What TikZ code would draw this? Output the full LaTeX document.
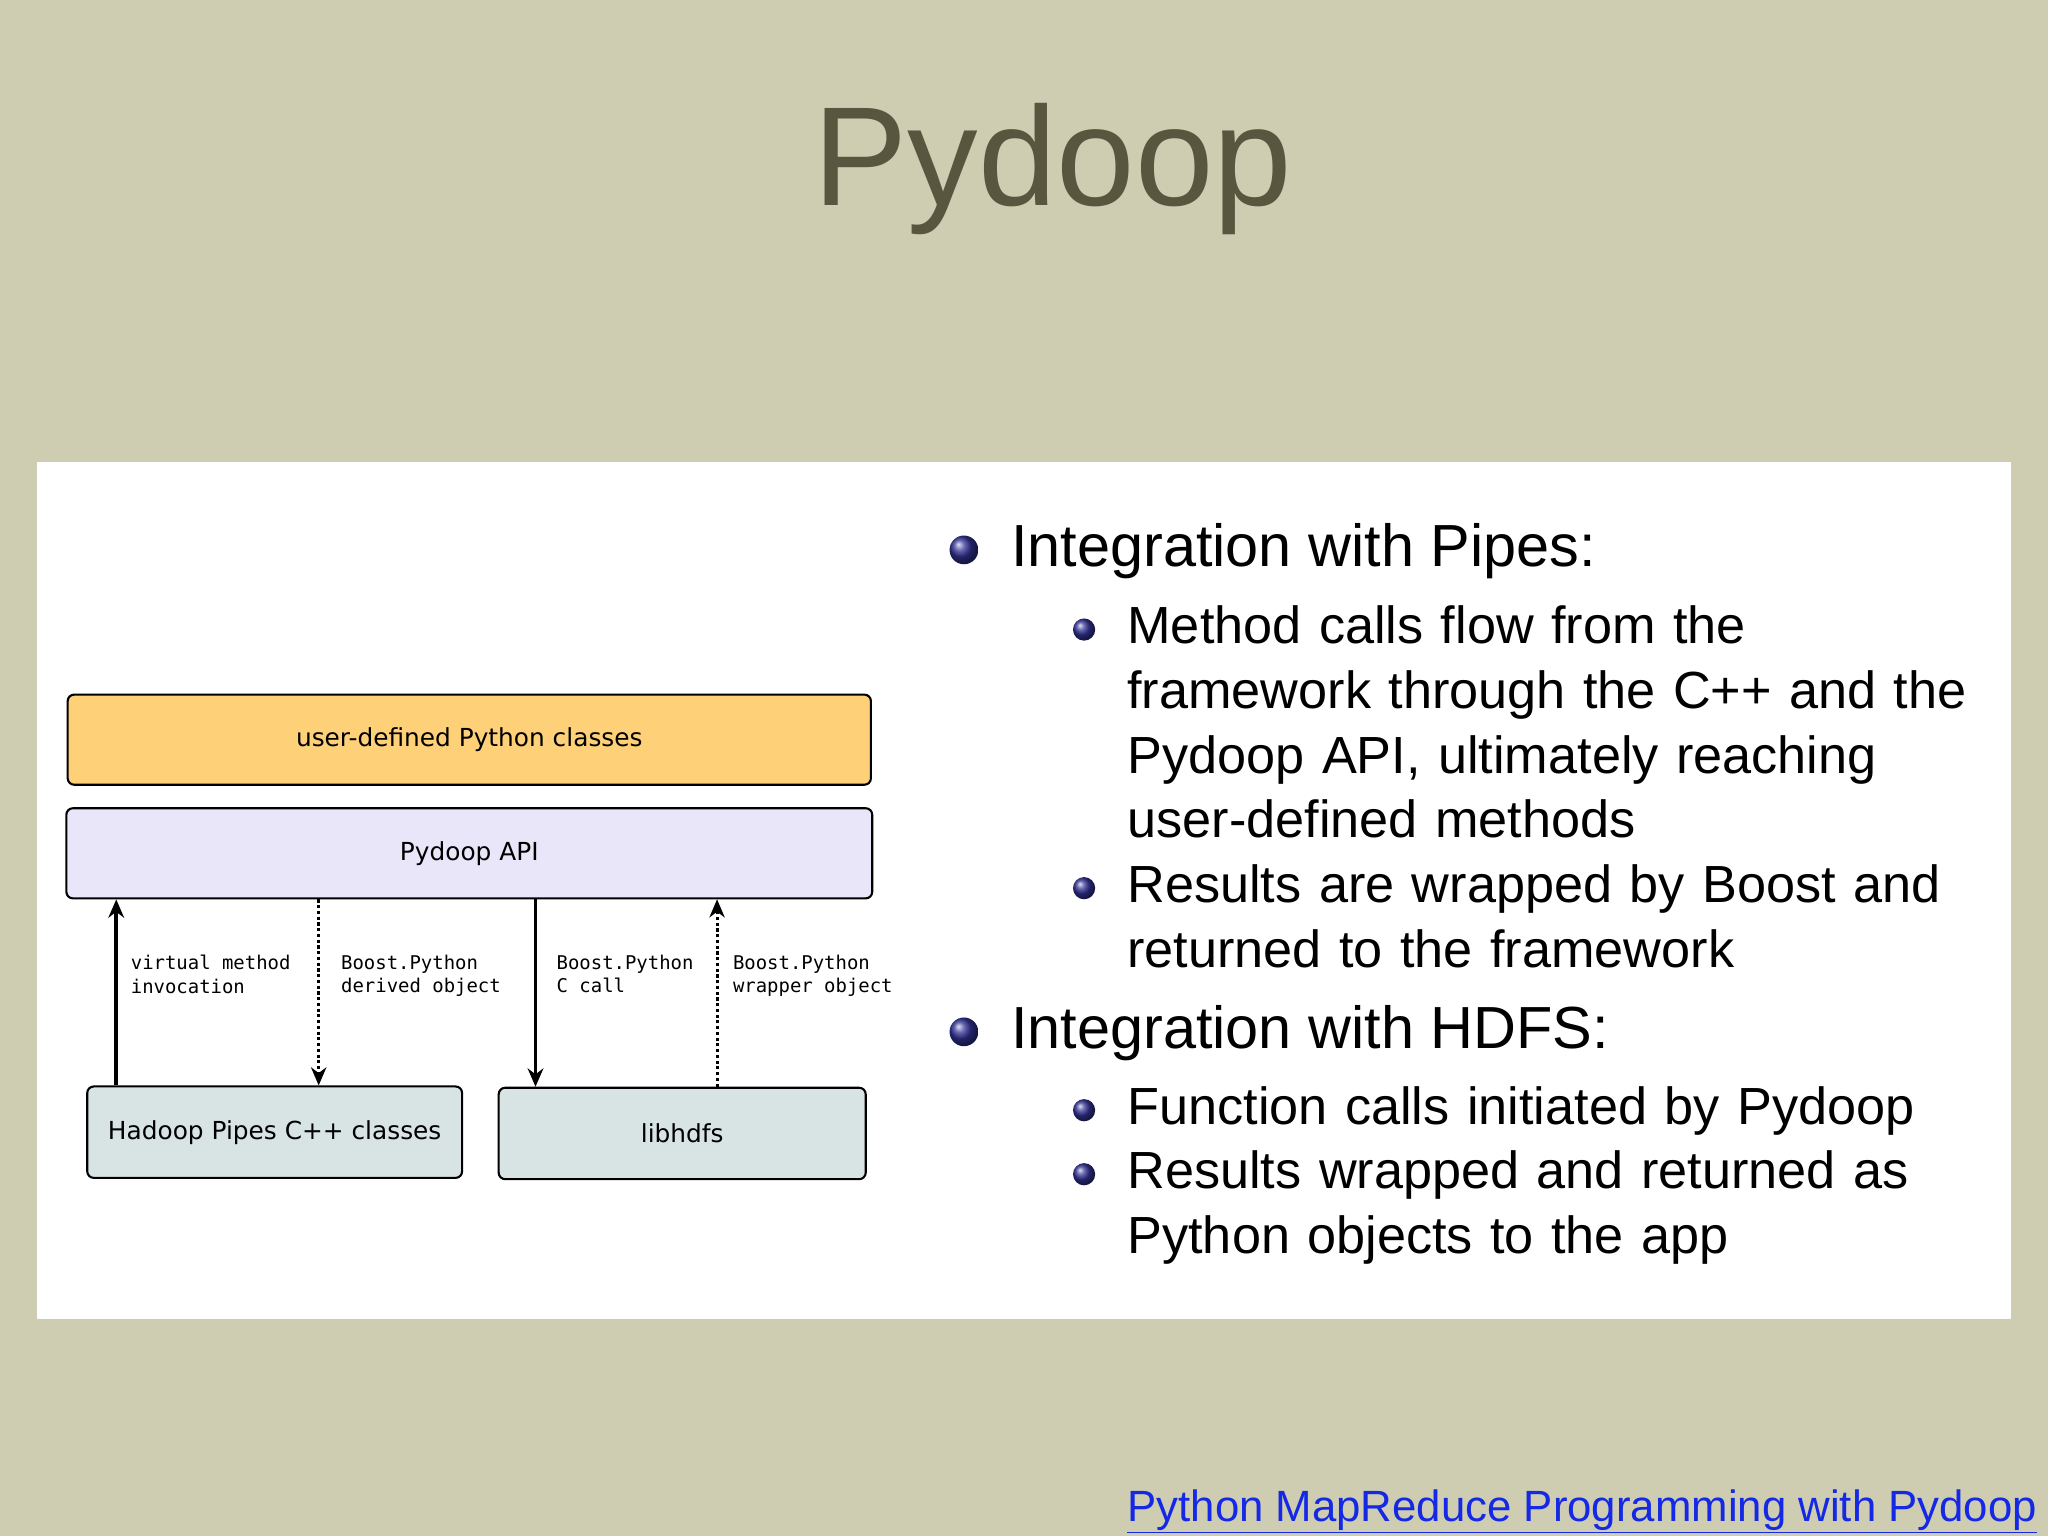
\documentclass[tikz,border=0pt]{standalone}
\usepackage{fontspec}
\setmainfont{Liberation Sans}
\newfontfamily\diagfont{DejaVu Sans}
\newfontfamily\codefont{DejaVu Sans Mono}
\usetikzlibrary{arrows.meta}
\definecolor{bgtan}{RGB}{206,205,178}
\definecolor{titlegray}{RGB}{88,86,62}
\definecolor{userfill}{RGB}{254,208,120}
\definecolor{apifill}{RGB}{232,230,248}
\definecolor{libfill}{RGB}{216,228,228}
\definecolor{ballblue}{RGB}{50,50,150}
\definecolor{linkblue}{RGB}{20,40,230}
\tikzset{
  layerbox/.style={draw=black,line width=1.6pt,rounded corners=5pt,anchor=north west,inner sep=0pt,font=\diagfont\fontsize{19}{22}\selectfont},
  callarrow/.style={line width=3pt,-{Stealth[length=14pt,width=12pt]}},
  retarrow/.style={line width=2.4pt,dotted,-{Stealth[length=14pt,width=12pt,line width=0pt]}},
  codelabel/.style={anchor=north west,inner sep=0pt,align=left,font=\codefont\fontsize{14.5}{18}\selectfont},
  bigitem/.style={anchor=base west,inner sep=0pt,font=\fontsize{45.5}{49}\selectfont},
  smallitem/.style={anchor=base west,inner sep=0pt,align=left,font=\fontsize{40}{49.5}\selectfont,text width=660pt},
  dot/.style={circle,inner sep=0pt,shading=ball,ball color=ballblue}
}
\begin{document}
\begin{tikzpicture}[x=1pt,y=1pt,yscale=-1]
\useasboundingbox (0,0) rectangle (1568,1176);
\fill[bgtan] (0,0) rectangle (1568,1176);
\fill[white] (28,354) rectangle (1540,1010);

% title
\node[text=titlegray,font=\fontsize{108}{108}\selectfont,anchor=base] (title) at (806,157) {Pydoop};

% layers
\node[layerbox,fill=userfill,minimum width=615pt,minimum height=69pt] (user) at (51,531) {user-defined Python classes};
\node[layerbox,fill=apifill,minimum width=617pt,minimum height=69pt] (api) at (50,618) {Pydoop API};
\node[layerbox,fill=libfill,minimum width=287pt,minimum height=70pt] (hadoop) at (66,831) {Hadoop Pipes C++ classes};
\node[layerbox,fill=libfill,minimum width=281pt,minimum height=70pt] (libhdfs) at (381,832) {libhdfs};

% arrows
\coordinate (a1) at (89,0);
\coordinate (a2) at (244,0);
\coordinate (a3) at (410,0);
\coordinate (a4) at (549,0);
\draw[callarrow] (hadoop.north -| a1) -- (api.south -| a1);
\draw[retarrow] (api.south -| a2) -- (hadoop.north -| a2);
\draw[callarrow] (api.south -| a3) -- (libhdfs.north -| a3);
\draw[retarrow] (libhdfs.north -| a4) -- (api.south -| a4);

\node[codelabel] (l1) at (100,731) {virtual method\\invocation};
\node[codelabel] (l2) at (261,731) {Boost.Python\\derived object};
\node[codelabel] (l3) at (426,731) {Boost.Python\\C call};
\node[codelabel] (l4) at (561,731) {Boost.Python\\wrapper object};

% bullets
\node[dot,minimum size=22pt] (b1) at (738,421) {};
\node[bigitem] (t1) at (774,434) {Integration with Pipes:};
\node[dot,minimum size=17pt] (b2) at (830,482) {};
\node[smallitem] (t2) at (863,493) {Method calls flow from the\\framework through the C++ and the\\Pydoop API, ultimately reaching\\user-defined methods};
\node[dot,minimum size=17pt] (b3) at (830,680) {};
\node[smallitem] (t3) at (863,691) {Results are wrapped by Boost and\\returned to the framework};
\node[dot,minimum size=22pt] (b4) at (738,790) {};
\node[bigitem] (t4) at (774,803) {Integration with HDFS:};
\node[dot,minimum size=17pt] (b5) at (830,850) {};
\node[smallitem] (t5) at (863,861) {Function calls initiated by Pydoop};
\node[dot,minimum size=17pt] (b6) at (830,899) {};
\node[smallitem] (t6) at (863,910) {Results wrapped and returned as\\Python objects to the app};

% link
\node[anchor=base west,inner sep=0pt,text=linkblue,font=\fontsize{33.5}{33}\selectfont] (link) at (863,1165) {\underline{Python MapReduce Programming with Pydoop}};
\end{tikzpicture}
\end{document}
